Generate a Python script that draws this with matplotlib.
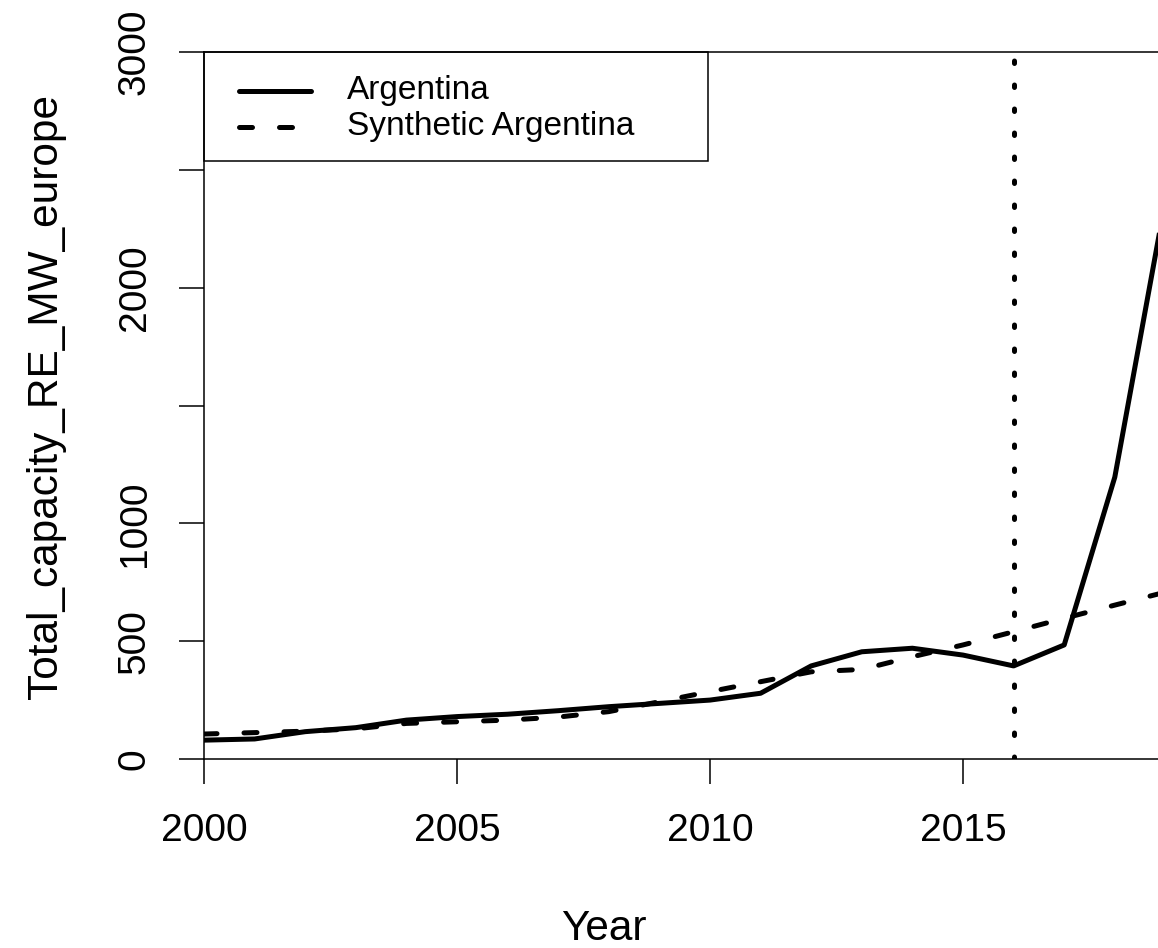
import matplotlib
matplotlib.use("Agg")
from matplotlib import pyplot as plt
from matplotlib.lines import Line2D
from matplotlib.patches import Rectangle

# DATOS

anios = list(range(2000, 2020))
argentina = [80, 85, 116, 133, 165, 180, 190, 205, 222, 236,
             250, 279, 395, 455, 470, 441, 395, 484, 1196, 2370]
sintetica = [106, 112, 118, 128, 151, 158, 165, 178, 201, 243,
             286, 328, 370, 380, 434, 484, 540, 597, 653, 708]
anio_tratamiento = 2016

xticks = [2000, 2005, 2010, 2015]
yticks = [0, 500, 1000, 1500, 2000, 2500, 3000]
ylabels = ["0", "500", "1000", "", "2000", "", "3000"]

etiquetas = ["Argentina", "Synthetic Argentina"]

plt.rcParams["font.family"] = ["Liberation Sans", "DejaVu Sans"]

W, H = 1158, 948
fig = plt.figure(figsize=(W / 100, H / 100), dpi=100)

# ejes en pixeles: izquierda 204, arriba 52, abajo 759, 1 anio = 50.6 px
izq, arr, aba = 204, 52, 759
der = izq + 19 * 50.6
ax = fig.add_axes([izq / W, 1 - aba / H, (der - izq) / W, (aba - arr) / H])

lw = 3.6
ax.plot(anios, argentina, color="black", lw=lw, solid_joinstyle="round")
ax.plot(anios, sintetica, color="black", lw=lw, linestyle=(0, (2.6, 5.4)),
        dash_capstyle="round")
ax.axvline(anio_tratamiento, color="black", lw=lw, linestyle=(0, (0.5, 4.3)),
           dash_capstyle="round")

ax.set_xlim(2000, 2019)
ax.set_ylim(0, 3000)
ax.set_xticks(xticks)
ax.set_yticks(yticks)
ax.set_yticklabels(ylabels)

for lado in ("left", "top", "bottom"):
    ax.spines[lado].set_linewidth(1.1)
ax.spines["right"].set_visible(False)

ax.tick_params(axis="both", direction="out", length=18, width=1.1,
               labelsize=28, colors="black")
ax.tick_params(axis="x", pad=21)
ax.tick_params(axis="y", pad=19)
for t in ax.get_yticklabels():
    t.set_rotation(90)
    t.set_va("center")

ax.set_xlabel("Year", fontsize=30.5)
ax.set_ylabel("Total_capacity_RE_MW_europe", fontsize=30.5)
ax.xaxis.set_label_coords(0.416, -0.212)
ax.yaxis.set_label_coords(-0.144, 0.513)

# LEYENDA (estilo R, dibujada a mano en pixeles)
def fx(x):
    return x / W

def fy(y):
    return 1 - y / H

fig.add_artist(Rectangle((fx(204), fy(161)), fx(708) - fx(204), fy(52) - fy(161),
                         transform=fig.transFigure, fill=False,
                         edgecolor="black", lw=1.1))
estilos = ["-", (0, (2.6, 5.4))]
for i, (et, est) in enumerate(zip(etiquetas, estilos)):
    yy = 91 + 36 * i
    fig.add_artist(Line2D([fx(239), fx(311)], [fy(yy), fy(yy)],
                          transform=fig.transFigure, color="black", lw=lw,
                          linestyle=est, dash_capstyle="round",
                          solid_capstyle="round"))
    fig.text(fx(347), fy(yy), et, fontsize=24, va="center", ha="left")

fig.savefig("out.png", dpi=100)
